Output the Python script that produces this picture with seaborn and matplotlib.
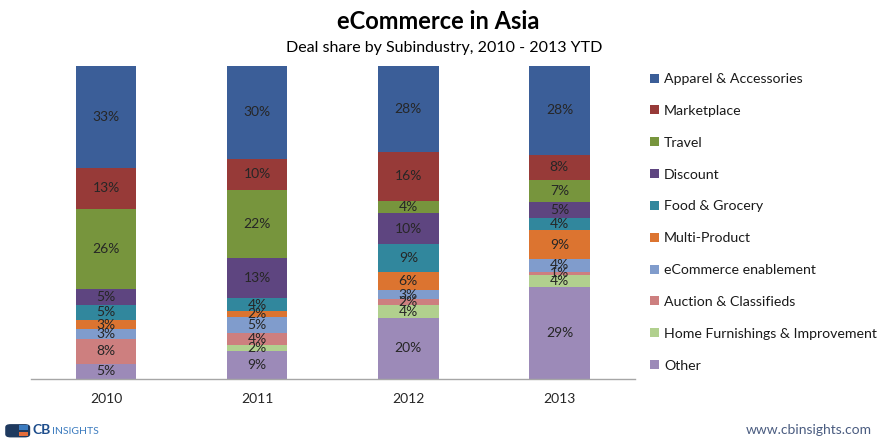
import numpy as np
import pandas as pd
import matplotlib
matplotlib.use("Agg")
import matplotlib.pyplot as plt
from matplotlib.patches import Patch, Rectangle, FancyBboxPatch
import seaborn as sns

years = ["2010", "2011", "2012", "2013"]
categories = ["Apparel & Accessories", "Marketplace", "Travel", "Discount",
              "Food & Grocery", "Multi-Product", "eCommerce enablement",
              "Auction & Classifieds", "Home Furnishings & Improvement", "Other"]
apparel = [33, 30, 28, 28]
marketplace = [13, 10, 16, 8]
travel = [26, 22, 4, 7]
discount = [5, 13, 10, 5]
food = [5, 4, 9, 4]
multi = [3, 2, 6, 9]
ecomm = [3, 5, 3, 4]
auction = [8, 4, 2, 1]
home = [0, 2, 4, 4]
other = [5, 9, 20, 29]
series = [apparel, marketplace, travel, discount, food, multi, ecomm, auction, home, other]
colors = ["#3B5E98", "#973A38", "#77953D", "#5E4580", "#31879D", "#DC7430",
          "#809CCC", "#CD7F7F", "#B1D08E", "#9C8AB8"]

sns.set_theme(style="white")
plt.rcParams['font.family'] = ['Lato', 'DejaVu Sans']

vals = np.array(series, dtype=float)          # rows: categories top->bottom
shares = vals / vals.sum(axis=0) * 100        # 100% stacked
bottom_up = shares[::-1]
cum = np.cumsum(bottom_up, axis=0)

fig = plt.figure(figsize=(8.85, 4.4), dpi=100)
ax = fig.add_axes([0.0345, 0.1386, 0.683, 0.7114])

n = len(categories)
for i in range(n - 1, -1, -1):
    cat_idx = n - 1 - i
    df = pd.DataFrame({"year": years, "h": cum[i]})
    sns.barplot(data=df, x="year", y="h", color=colors[cat_idx], width=0.4,
                saturation=1, ax=ax, linewidth=0, errorbar=None)

for i in range(n):
    cat_idx = n - 1 - i
    for j in range(len(years)):
        v = vals[cat_idx, j]
        if v <= 0:
            continue
        top = cum[i, j]
        mid = top - bottom_up[i, j] / 2
        ax.text(j, mid, f"{int(v)}%", ha="center", va="center",
                fontsize=10, color="#262626")

ax.set_ylim(0, 100)
ax.set_xlim(-0.5, 3.5)
ax.set_xlabel("")
ax.set_ylabel("")
ax.set_yticks([])
ax.tick_params(axis="x", length=0, labelsize=10, colors="#262626", pad=10)
for s in ["top", "right", "left"]:
    ax.spines[s].set_visible(False)
ax.spines["bottom"].set_color("#A6A6A6")
ax.spines["bottom"].set_linewidth(1.0)

fig.text(0.495, 0.952, "eCommerce in Asia", ha="center", va="center",
         fontsize=17, fontweight="bold", color="#000000")
fig.text(0.502, 0.890, "Deal share by Subindustry, 2010 - 2013 YTD", ha="center",
         va="center", fontsize=11.5, color="#000000")

handles = [Patch(facecolor=c, edgecolor="none") for c in colors]
fig.legend(handles, categories, loc="upper left", bbox_to_anchor=(0.735, 0.834),
           frameon=False, fontsize=10.2, handlelength=0.6, handleheight=0.6,
           handletextpad=0.35, labelspacing=1.40, borderpad=0, borderaxespad=0,
           labelcolor="#1A1A1A")

# footer
fig.text(0.985, 0.022, "www.cbinsights.com", ha="right", va="center",
         fontsize=10, color="#4A5C80")
logo = fig.add_axes([0.005, 0.003, 0.03, 0.036])
logo.set_xlim(0, 1); logo.set_ylim(0, 1); logo.axis("off")
logo.add_patch(FancyBboxPatch((0.05, 0.1), 0.9, 0.8, boxstyle="round,pad=0.02,rounding_size=0.2",
                              facecolor="#1F3A5F", edgecolor="none"))
logo.add_patch(Rectangle((0.55, 0.15), 0.35, 0.3, facecolor="#E46C3A", edgecolor="none"))
logo.add_patch(Rectangle((0.55, 0.55), 0.35, 0.3, facecolor="#3B7BBF", edgecolor="none"))
fig.text(0.037, 0.022, "CB", ha="left", va="center", fontsize=10,
         fontweight="bold", color="#1F4E8C")
fig.text(0.0585, 0.020, "INSIGHTS", ha="left", va="center", fontsize=7.5,
         color="#3B7BBF")

fig.savefig("out.png", dpi=100)
